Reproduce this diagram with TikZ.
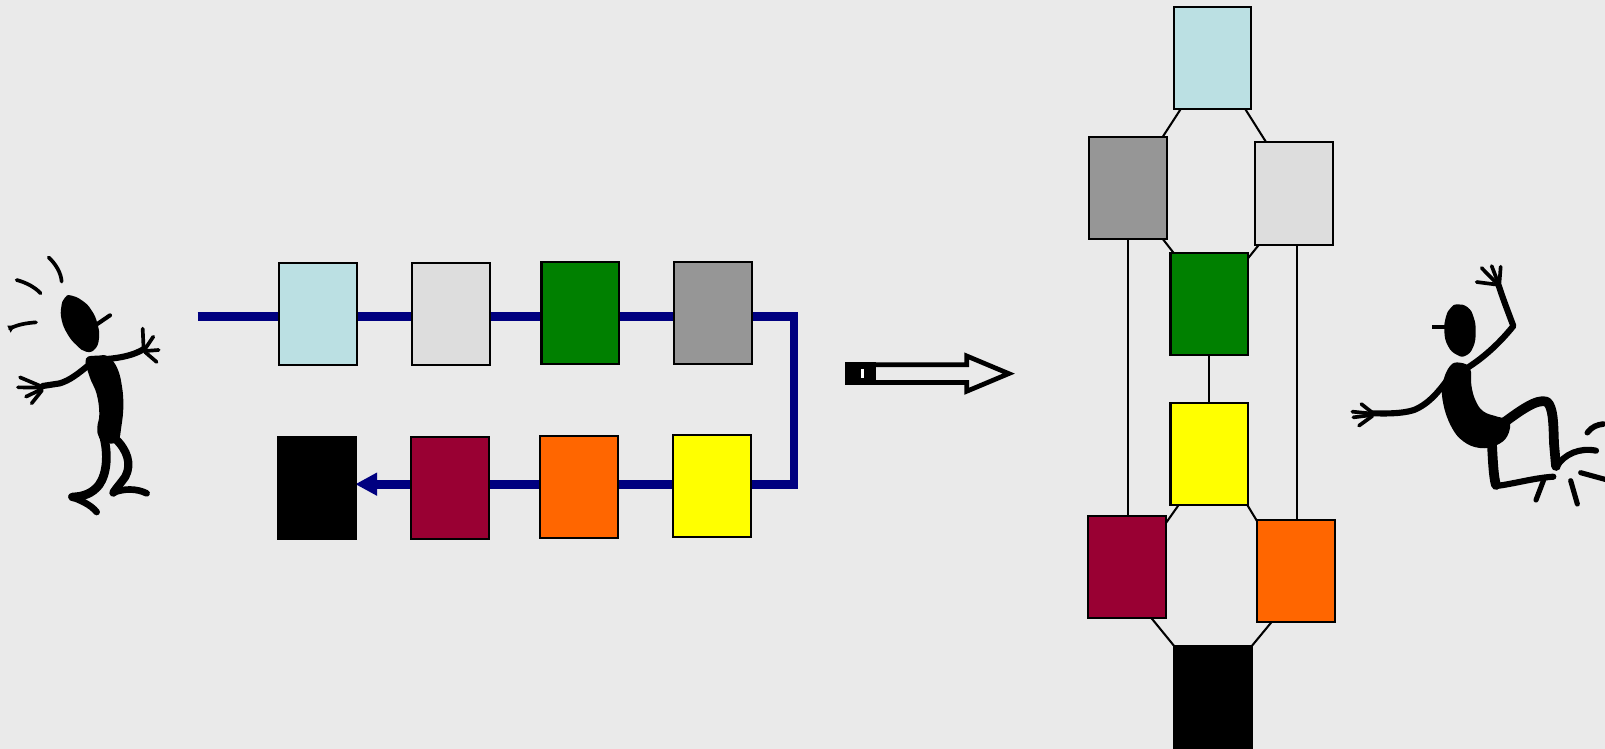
\documentclass[tikz,border=0pt]{standalone}
\usetikzlibrary{arrows.meta}
\definecolor{bgc}{HTML}{EAEAEA}
\definecolor{lblue}{HTML}{BBE0E3}
\definecolor{lgray}{HTML}{DDDDDD}
\definecolor{dgreen}{HTML}{008000}
\definecolor{mgray}{HTML}{969696}
\definecolor{yel}{HTML}{FFFF00}
\definecolor{ora}{HTML}{FF6600}
\definecolor{mar}{HTML}{990033}
\definecolor{navyb}{HTML}{000080}
\pgfdeclarelayer{back}
\pgfdeclarelayer{lines}
\pgfsetlayers{back,lines,main}
\tikzset{
  blk/.style={draw=black, line width=2pt, minimum width=76pt, minimum height=100pt, inner sep=0pt, outer sep=0pt},
  flow/.style={draw=navyb, line width=8.5pt},
  link/.style={draw=black, line width=2pt},
  limb/.style={draw=black, line cap=round, line join=round},
  body/.style={fill=black},
}
\begin{document}
\begin{tikzpicture}[x=1pt,y=-1pt]
\begin{pgfonlayer}{back}
\fill[bgc] (0,0) rectangle (1568,731.7);
\end{pgfonlayer}
\useasboundingbox (0,0) rectangle (1568,731.7);

% ---------- left chain ----------
\node[blk, fill=lblue] (l1) at (310.8,307) {};
\node[blk, fill=lgray] (l2) at (440.5,306.5) {};
\node[blk, fill=dgreen] (l3) at (567,306) {};
\node[blk, fill=mgray] (l4) at (696.5,305.8) {};
\node[blk, fill=yel] (l5) at (695.6,475) {};
\node[blk, fill=ora] (l6) at (566,476) {};
\node[blk, fill=mar] (l7) at (439.6,476.5) {};
\node[blk, fill=black] (l8) at (309.5,476.5) {};

\coordinate (fs) at (193,309.5);
\coordinate (fc1) at (775.7,309.5);
\coordinate (fc2) at (775.7,473);
\begin{pgfonlayer}{lines}
\draw[flow, -{Triangle[length=21pt,width=23pt,line width=0pt]}] (fs) -- (fc1) -- (fc2) -- (fc2 -| l8.east);
\end{pgfonlayer}

% ---------- big hollow arrow ----------
\draw[black, line width=4.6pt, miter limit=10] (828,356.3) -- (944.5,356.3) -- (944.5,347.8) -- (985.5,365) -- (944.5,382.2) -- (944.5,373.7) -- (828,373.7) -- cycle;
\fill[black] (825.5,354) rectangle (856,376);
\fill[white] (841,360.5) rectangle (844.4,369.6);

% ---------- right lattice ----------
\node[blk, fill=lblue] (r1) at (1184.5,56.5) {};
\node[blk, fill=mgray] (r2) at (1102,183.5) {};
\node[blk, fill=lgray] (r3) at (1264,189) {};
\node[blk, fill=dgreen] (r4) at (1181.5,297) {};
\node[blk, fill=yel] (r5) at (1181.5,443.3) {};
\node[blk, fill=mar] (r6) at (1101,554) {};
\node[blk, fill=ora] (r7) at (1266,558) {};
\node[blk, fill=black] (r8) at (1185,681) {};

\begin{pgfonlayer}{lines}
\draw[link] ([xshift=7pt]r1.south west) -- ([xshift=-4pt]r2.north east);
\draw[link] ([xshift=-6pt]r1.south east) -- ([xshift=11pt]r3.north west);
\draw[link] ([xshift=-4pt]r2.south east) -- ([xshift=3pt]r4.north west);
\draw[link] ([xshift=4pt]r3.south west) -- ([yshift=-5pt]r4.north east);
\draw[link] (r4.south) -- (r5.north);
\draw[link] (r2.south) -- (r2.south |- r6.north);
\draw[link] ([xshift=3pt]r3.south) -- ([xshift=3pt]r3.south |- r7.north);
\draw[link] ([xshift=8pt]r5.south west) -- ([yshift=-7pt]r6.north east);
\draw[link] ([xshift=-1pt]r5.south east) -- ([yshift=-1pt]r7.north west);
\draw[link] ([xshift=-14pt]r6.south east) -- (r8.north west);
\draw[link] ([xshift=14pt]r7.south west) -- (r8.north east);
\end{pgfonlayer}

% ---------- left figure ----------
\begin{scope}[shift={(0,234.46)}, scale=0.32565]
  \fill[body] plot[smooth cycle, tension=0.8] coordinates {(212,166) (247,182) (274,210) (292,250) (297,295) (284,328) (258,335) (230,316) (203,283) (185,240) (184,200) (194,174)};
  \draw[limb, line width=4pt] (286,256) -- (330,226);
  \draw[limb, line width=3.6pt] (146,52) .. controls (170,75) and (183,100) .. (185,125);
  \draw[limb, line width=3.6pt] (50,120) .. controls (80,128) and (105,142) .. (122,160);
  \draw[limb, line width=3.6pt] (30,266) .. controls (50,254) and (80,249) .. (108,247);
  \fill[body] (22,257) -- (44,257) -- (32,278) -- cycle;
  \fill[body] plot[smooth cycle, tension=0.7] coordinates {(258,356) (295,347) (325,350) (352,385) (366,440) (370,500) (364,560) (354,602) (325,610) (298,594) (292,562) (298,522) (290,462) (268,408)};
  \draw[limb, line width=6pt] (270,372) .. controls (230,405) and (210,420) .. (180,430) -- (128,438);
  \draw[limb, line width=3.6pt] (126,440) -- (60,412);
  \draw[limb, line width=3.6pt] (126,443) -- (54,442);
  \draw[limb, line width=3.6pt] (126,447) -- (78,470);
  \draw[limb, line width=3.6pt] (126,451) -- (95,490);
  \draw[limb, line width=6pt] (320,357) .. controls (360,354) and (400,346) .. (430,328);
  \draw[limb, line width=3.6pt] (431,330) -- (428,266);
  \draw[limb, line width=3.6pt] (433,330) -- (460,290);
  \draw[limb, line width=3.6pt] (436,333) -- (476,330);
  \draw[limb, line width=3.6pt] (435,336) -- (470,366);
  \draw[limb, line width=8.5pt] (310,585) .. controls (325,640) and (322,700) .. (297,735) .. controls (277,760) and (250,770) .. (218,771);
  \draw[limb, line width=6.5pt] (214,770) .. controls (242,782) and (270,792) .. (290,816);
  \draw[limb, line width=8pt] (345,595) .. controls (382,630) and (396,672) .. (376,710) .. controls (362,730) and (348,745) .. (340,758);
  \draw[limb, line width=6.5pt] (340,758) .. controls (372,745) and (410,745) .. (440,760);
\end{scope}

% ---------- right figure ----------
\begin{scope}[shift={(1309.1,244.24)}, scale=0.32565]
  \fill[body] plot[smooth cycle, tension=0.8] coordinates {(352,163) (383,172) (401,202) (407,245) (400,290) (377,317) (350,314) (324,288) (313,245) (318,200) (332,174)};
  \draw[black, line width=3.8pt] (277,231) -- (330,231);
  \fill[body] plot[smooth cycle, tension=0.7] coordinates {(330,348) (360,338) (390,355) (394,405) (406,450) (430,484) (472,500) (508,512) (502,558) (468,586) (420,594) (370,574) (334,530) (310,462) (308,402)};
  \draw[limb, line width=6pt] (378,356) .. controls (420,330) and (470,290) .. (520,228) .. controls (506,190) and (490,150) .. (476,106);
  \draw[limb, line width=3.6pt] (474,104) -- (425,54);
  \draw[limb, line width=3.6pt] (476,102) -- (455,48);
  \draw[limb, line width=3.6pt] (478,102) -- (482,50);
  \draw[limb, line width=3.6pt] (472,104) -- (410,96);
  \draw[limb, line width=6pt] (335,372) .. controls (300,420) and (270,460) .. (222,480) .. controls (180,493) and (130,490) .. (95,490);
  \draw[limb, line width=3.6pt] (97,488) -- (64,462);
  \draw[limb, line width=3.6pt] (97,491) -- (37,485);
  \draw[limb, line width=3.6pt] (97,495) -- (40,502);
  \draw[limb, line width=3.6pt] (97,498) -- (57,527);
  \draw[limb, line width=9.5pt] (478,528) .. controls (540,482) and (590,445) .. (620,455) .. controls (640,470) and (640,520) .. (642,580) -- (648,648);
  \draw[limb, line width=6pt] (650,650) .. controls (672,612) and (720,592) .. (768,602);
  \draw[limb, line width=5.5pt] (742,548) .. controls (755,530) and (772,524) .. (790,522);
  \draw[limb, line width=5pt] (722,668) -- (795,688);
  \draw[limb, line width=5pt] (692,692) -- (712,762);
  \draw[limb, line width=5pt] (614,682) -- (588,750);
  \draw[limb, line width=9.5pt] (455,565) .. controls (458,620) and (460,680) .. (468,705);
  \draw[limb, line width=6pt] (468,708) .. controls (520,702) and (580,684) .. (640,680);
\end{scope}
\end{tikzpicture}
\end{document}
